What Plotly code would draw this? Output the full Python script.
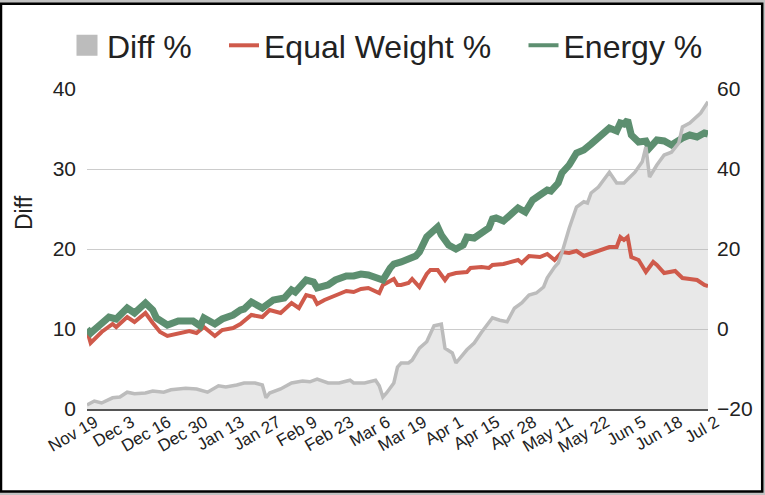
import plotly.graph_objects as go

# ---- data -------------------------------------------------------------
tick_labels = ["Nov 19", "Dec 3", "Dec 16", "Dec 30", "Jan 13", "Jan 27", "Feb 9",
               "Feb 23", "Mar 6", "Mar 19", "Apr 1", "Apr 15", "Apr 28", "May 11",
               "May 22", "Jun 5", "Jun 18", "Jul 2"]
tick_days = [0, 10, 20, 30, 40, 50, 60, 70, 80, 90, 100, 110, 120, 130, 140, 150, 160, 170]

energy_day = [0, 1, 3, 6, 8, 11, 13, 16, 18, 19, 22, 25, 29, 31, 32, 35, 37, 40, 42, 43,
              45, 48, 51, 54, 56, 57, 60, 62, 63, 66, 68, 71, 73, 75, 77, 80, 81, 83, 84, 86,
              87, 90, 91, 93, 96, 97, 99, 101, 103, 104, 106, 108, 110, 111, 112, 114, 116,
              118, 120, 122, 124, 126, 127, 129, 130, 132, 134, 136, 138, 140, 143, 145, 146,
              147, 148, 149, 151, 153, 154, 156, 158, 160, 162, 163, 165, 167, 169, 170]
energy_pct = [0, -1, 0.6, 3, 2.5, 5.25, 4, 6.5, 4.75, 2.75, 1, 2, 2, 0.75, 2.75, 1.25, 2.5,
              3.5, 4.75, 5, 6.75, 5.25, 7.25, 7.75, 9.75, 9.25, 12.25, 11.75, 10.25, 11, 12.25,
              13.25, 13.25, 13.75, 13.5, 12.75, 12.25, 15.25, 16.25, 16.75, 17.25, 18.25,
              19.25, 23, 25.5, 23.5, 21, 20, 21, 23, 22.75, 24.25, 25.25, 27.5, 27.75, 27,
              28.5, 30.25, 29.25, 32.25, 33.5, 34.75, 34.5, 36.5, 39, 41, 44, 44.75, 46.25,
              47.75, 50.25, 49.5, 51.5, 51.25, 52.25, 48.5, 46.75, 47, 45.25, 47.25, 47, 46,
              47.25, 47.75, 48.5, 48, 49, 48.75]

equal_day = [0, 1, 4, 7, 8, 11, 13, 16, 18, 20, 22, 25, 28, 30, 32, 35, 37, 40, 42, 45,
             48, 50, 53, 56, 58, 60, 62, 63, 65, 69, 71, 73, 75, 77, 80, 81, 84, 85, 86, 88,
             89, 91, 93, 94, 96, 98, 99, 101, 104, 105, 108, 110, 111, 114, 116, 118, 119,
             121, 124, 126, 128, 130, 132, 134, 136, 139, 141, 143, 145, 146, 147, 148, 149,
             151, 153, 155, 156, 158, 161, 163, 165, 167, 169, 170]
equal_pct = [-0.25, -3.5, -0.75, 1.25, 0.5, 3, 1.75, 4, 1.5, -0.75, -1.75, -1, -0.5, -1,
             0.5, -1.75, -0.25, 0.25, 1.25, 3.5, 3, 4.75, 4, 6.5, 5.25, 8.5, 8, 6.25, 7.25,
             8.75, 9.5, 9.25, 10, 10.25, 9, 11, 12.5, 11, 11, 11.5, 12.5, 10.5, 13.75, 14.75,
             14.75, 12.25, 13.5, 14, 14.25, 15.25, 15.5, 15.25, 16, 16.25, 16.75, 17.25,
             16.5, 18.25, 18, 18.75, 17.25, 19.25, 19, 19.5, 18.25, 19.25, 19.75, 20.5, 20.5,
             23, 22.25, 23, 18, 17.25, 14.25, 16.75, 16, 14, 14.5, 12.75, 12.5, 12.25, 11,
             10.75]

diff_day = [0, 2, 4, 7, 9, 11, 13, 16, 18, 21, 23, 27, 30, 33, 36, 38, 41, 43, 46, 48,
            49, 50, 53, 56, 59, 61, 63, 66, 69, 72, 73, 76, 79, 80, 81, 82, 84, 85, 86, 88,
            89, 91, 93, 95, 97, 98, 100, 101, 104, 106, 108, 111, 113, 115, 117, 119, 121,
            123, 125, 126, 128, 129, 130, 132, 134, 136, 137, 138, 140, 143, 145, 147, 150,
            152, 153, 154, 156, 158, 160, 162, 163, 165, 168, 170]
diff_pct = [0.5, 1.0, 0.75, 1.4, 1.5, 2.1, 1.9, 2.0, 2.25, 2.1, 2.4, 2.6, 2.5, 2.1, 2.9,
            2.75, 3.0, 3.25, 3.25, 3.0, 1.4, 2.0, 2.5, 3.25, 3.5, 3.4, 3.75, 3.25, 3.25, 3.6,
            3.25, 3.25, 3.6, 2.9, 1.5, 2.0, 3.25, 5.25, 5.75, 5.75, 6.1, 7.6, 8.4, 10.4,
            10.6, 7.6, 7.0, 5.75, 7.4, 8.25, 9.6, 11.4, 11.1, 10.9, 12.6, 13.25, 14.25,
            14.5, 15.25, 16.4, 17.75, 18.25, 19.5, 22.6, 25.25, 25.9, 25.75, 27, 27.75,
            29.6, 28.25, 28.25, 29.6, 30.9, 32.75, 29, 30.5, 31.75, 32.1, 33.25, 35.25,
            35.75, 37, 38.4]

# ---- style --------------------------------------------------------------
FONT = "Arial, 'Liberation Sans', sans-serif"
GRAY_LINE = "#bcbcbc"
GRAY_FILL = "rgba(178,178,178,0.30)"
RED = "#cf5a4b"
GREEN = "#5d8f70"
TXT = "#222222"

fig = go.Figure()

# Diff area (left axis)
fig.add_trace(go.Scatter(x=diff_day, y=diff_pct, mode="lines", fill="tozeroy",
                         fillcolor=GRAY_FILL, line=dict(width=0, color=GRAY_LINE),
                         showlegend=False, hoverinfo="skip", yaxis="y"))
# Equal weight & Energy (right axis)
fig.add_trace(go.Scatter(x=equal_day, y=equal_pct, mode="lines", name="Equal Weight %",
                         line=dict(color=RED, width=4), showlegend=False, yaxis="y2"))
fig.add_trace(go.Scatter(x=energy_day, y=energy_pct, mode="lines", name="Energy %",
                         line=dict(color=GREEN, width=7), showlegend=False, yaxis="y2"))
# Diff line on top (same scale as left axis)
fig.add_trace(go.Scatter(x=diff_day, y=diff_pct, mode="lines", name="Diff %",
                         line=dict(color=GRAY_LINE, width=3.5), showlegend=False,
                         yaxis="y3"))

# legend proxies
fig.add_trace(go.Scatter(x=[None], y=[None], mode="markers", name="Diff %",
                         marker=dict(symbol="square", size=16, color=GRAY_LINE,
                                     line=dict(color=GRAY_LINE, width=5)),
                         legend="legend"))
fig.add_trace(go.Scatter(x=[None], y=[None], mode="lines", name="Equal Weight %",
                         line=dict(color=RED, width=4), legend="legend2"))
fig.add_trace(go.Scatter(x=[None], y=[None], mode="lines", name="Energy %",
                         line=dict(color=GREEN, width=4), legend="legend3"))

L, R, T, B = 87, 57, 89, 86
W, H = 765, 495
PW, PH = W - L - R, H - T - B


def px_x(p):
    return (p - L) / PW


def px_y(p):
    return (H - B - p) / PH


legend_common = dict(orientation="h", yanchor="middle", xanchor="left",
                     y=px_y(45.5), bgcolor="rgba(0,0,0,0)", borderwidth=0,
                     font=dict(family=FONT, size=32, color=TXT), valign="middle")

fig.update_layout(
    width=W, height=H, autosize=False,
    margin=dict(l=L, r=R, t=T, b=B, pad=0),
    paper_bgcolor="#c2c2c2", plot_bgcolor="white",
    font=dict(family=FONT, color=TXT),
    showlegend=True,
    legend=dict(x=px_x(67), **legend_common),
    legend2=dict(x=px_x(224), **legend_common),
    legend3=dict(x=px_x(523.5), **legend_common),
    xaxis=dict(range=[0, 170], tickmode="array", tickvals=tick_days, ticktext=tick_labels,
               tickangle=-30, showgrid=False, zeroline=False, showline=True,
               linecolor="#555555", linewidth=2, ticks="",
               ticklabelshift=8, ticklabelstandoff=-5,
               tickfont=dict(family=FONT, size=17, color=TXT)),
    yaxis=dict(range=[0, 40], tick0=0, dtick=10, showgrid=True, gridcolor="#cccccc",
               gridwidth=1, zeroline=False, showline=False, ticks="",
               ticklabelstandoff=10, tickfont=dict(family=FONT, size=21, color=TXT)),
    yaxis2=dict(range=[-20, 60], tick0=-20, dtick=20, overlaying="y", side="right",
                showgrid=False, zeroline=False, showline=False, ticks="",
                ticklabelstandoff=8, tickfont=dict(family=FONT, size=21, color=TXT)),
    yaxis3=dict(range=[0, 40], overlaying="y", visible=False),
    annotations=[dict(text="Diff", xref="paper", yref="paper", x=px_x(23.5),
                      y=px_y(212.5), textangle=-90, showarrow=False, xanchor="center",
                      yanchor="middle", font=dict(family=FONT, size=23, color=TXT))],
    shapes=[dict(type="rect", xref="paper", yref="paper", layer="below",
                 x0=px_x(1.0), x1=px_x(762.2), y0=px_y(3.7), y1=px_y(491.5),
                 fillcolor="white", line=dict(color="black", width=2.5))],
)

fig.write_html("out.html")
